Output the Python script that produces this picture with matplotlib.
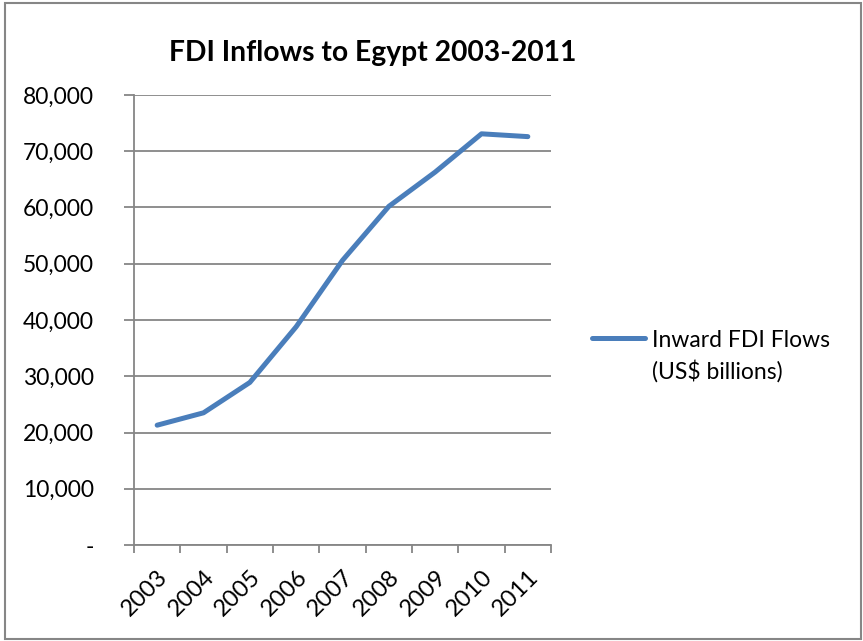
import matplotlib
matplotlib.use("Agg")
import matplotlib.pyplot as plt
from matplotlib.patches import Rectangle
from matplotlib.lines import Line2D
from matplotlib.ticker import FuncFormatter, MultipleLocator

years = ["2003", "2004", "2005", "2006", "2007", "2008", "2009", "2010", "2011"]
fdi = [21300, 23500, 28900, 38800, 50600, 60200, 66300, 73100, 72600]
series_lines = ["Inward FDI Flows", "(US$ billions)"]
title = "FDI Inflows to Egypt 2003-2011"

plt.rcParams['font.family'] = ['Lato', 'DejaVu Sans']
W, H = 863, 641
fig = plt.figure(figsize=(W / 100, H / 100), dpi=100)
fig.patch.set_facecolor("white")

# outer border
fig.patches.append(Rectangle((5 / W, 2 / H), 856 / W, 636 / H, transform=fig.transFigure,
                             fill=False, edgecolor="#868686", linewidth=1.5))

ax = fig.add_axes([134 / W, 1 - 545 / H, (551 - 134) / W, (545 - 95) / H])
x = list(range(len(years)))
line_color = "#4A7EBB"
ax.plot(x, fdi, color=line_color, linewidth=3.6, solid_capstyle="round",
        solid_joinstyle="round")

ax.set_xlim(-0.5, len(years) - 0.5)
ax.set_ylim(0, 80000)
ax.yaxis.set_major_locator(MultipleLocator(10000))
ax.yaxis.set_major_formatter(FuncFormatter(lambda v, p: "-" if v == 0 else f"{int(v):,}"))
ax.grid(axis="y", color="#868686", linewidth=1.3)
ax.set_axisbelow(True)

for s in ["top", "right"]:
    ax.spines[s].set_visible(False)
for s in ["left", "bottom"]:
    ax.spines[s].set_color("#868686")
    ax.spines[s].set_linewidth(1.3)

ax.set_xticks([i - 0.5 for i in range(len(years) + 1)])
ax.set_xticklabels([])
ax.set_xticks(x, minor=True)
ax.set_xticklabels(years, minor=True, rotation=45, ha="right", va="top",
                   rotation_mode="anchor", fontsize=17)
ax.tick_params(axis="x", which="major", length=6, width=1.3, color="#868686", direction="out")
ax.tick_params(axis="x", which="minor", length=0, pad=15)
ax.tick_params(axis="y", length=7, width=1.3, color="#868686", labelsize=16.5, pad=22)

fig.text(373 / W, 1 - 53 / H, title, ha="center", va="center", fontsize=20.3, fontweight="bold")

# legend (Excel-style: marker aligned with first text line)
fig.add_artist(Line2D([592 / W, 645 / W], [1 - 338 / H, 1 - 338 / H], transform=fig.transFigure,
                      color=line_color, linewidth=3.6, solid_capstyle="round"))
fig.text(652 / W, 1 - 347 / H, series_lines[0], ha="left", va="baseline", fontsize=16.5)
fig.text(652 / W, 1 - 379 / H, series_lines[1], ha="left", va="baseline", fontsize=16.5)

fig.savefig("out.png", dpi=100, facecolor="white")
